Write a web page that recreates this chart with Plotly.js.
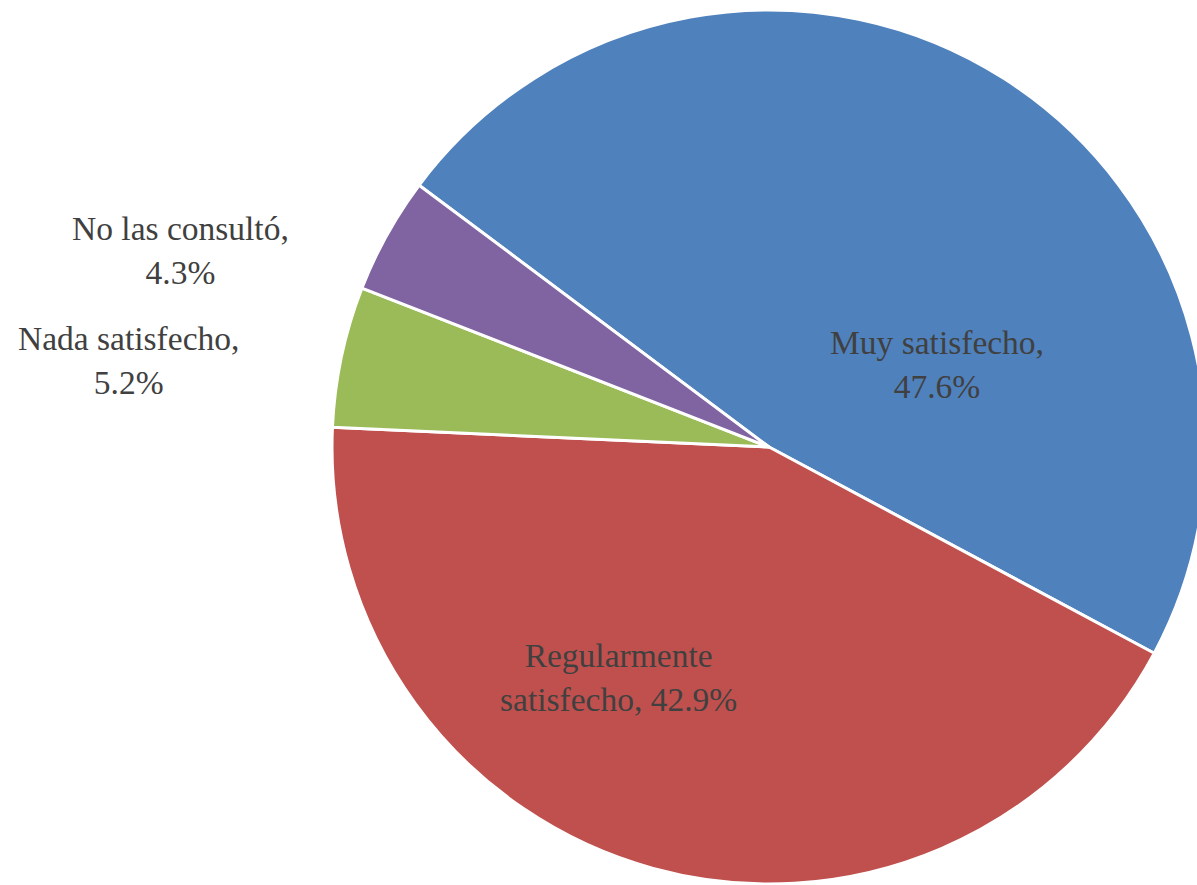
<!DOCTYPE html>
<html>
<head>
<meta charset="utf-8">
<script src="https://cdn.plot.ly/plotly-3.0.1.min.js"></script>
<style>
  html, body { margin: 0; padding: 0; overflow: hidden; background: #fff; }
  #chart { width: 1215px; height: 885px; }
</style>
</head>
<body>
<div id="chart"></div>
<script>
// Data
const categories = ["Muy satisfecho", "Regularmente satisfecho", "Nada satisfecho", "No las consultó"];
const values = [47.6, 42.9, 5.2, 4.3];
const colors = ["#4F81BD", "#C0504D", "#9BBB59", "#8064A2"];
// how each label is written on the chart (line breaks)
const displayNames = ["Muy satisfecho,", "Regularmente<br>satisfecho,", "Nada satisfecho,", "No las consultó,"];
const valueSeparators = ["<br>", " ", "<br>", "<br>"];

// Label placement (paper coordinates, pixel based)
const W = 1215, H = 885;
const labelPixels = [[937, 364], [619, 677], [128, 360], [180, 250]];

const annotations = categories.map((c, i) => ({
  xref: "paper", yref: "paper",
  x: labelPixels[i][0] / W,
  y: 1 - labelPixels[i][1] / H,
  xanchor: "center", yanchor: "middle",
  align: "center",
  showarrow: false,
  text: displayNames[i] + valueSeparators[i] + values[i].toFixed(1) + "%",
  font: { family: "Liberation Serif, serif", size: 33.5, color: "#404040" }
}));

const trace = {
  type: "pie",
  labels: categories,
  values: values,
  sort: false,
  direction: "clockwise",
  rotation: -53.2,
  marker: { colors: colors, line: { color: "#ffffff", width: 3 } },
  textinfo: "none",
  hoverinfo: "none",
  showlegend: false,
  domain: { x: [332 / W, 1206 / W], y: [1 / H, 875 / H] }
};

const layout = {
  width: W, height: H,
  margin: { l: 0, r: 0, t: 0, b: 0 },
  paper_bgcolor: "#ffffff",
  plot_bgcolor: "#ffffff",
  showlegend: false,
  annotations: annotations
};

Plotly.newPlot("chart", [trace], layout, { displayModeBar: false, staticPlot: true });
</script>
</body>
</html>
